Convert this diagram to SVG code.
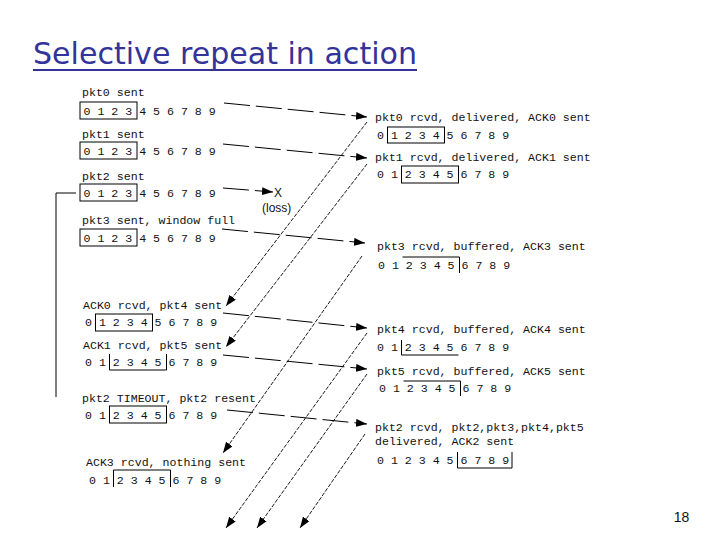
<svg xmlns="http://www.w3.org/2000/svg" width="720" height="540" viewBox="0 0 720 540">
<defs>
<marker id="ah" markerUnits="userSpaceOnUse" markerWidth="11" markerHeight="8" refX="11" refY="4" orient="auto"><path d="M0,0 L11,4 L0,8 z" fill="#000"/></marker>
<style>
.t{font-family:"Liberation Mono","DejaVu Sans Mono",monospace;font-size:11.6px;fill:#111}
.b{fill:none;stroke:#000;stroke-width:1}
.d{stroke:#000;stroke-width:1;fill:none;stroke-dasharray:26 6;marker-end:url(#ah)}
.a{stroke:#000;stroke-width:0.9;fill:none;stroke-dasharray:4 1.5;marker-end:url(#ah)}
</style>
</defs>
<rect width="720" height="540" fill="#fff"/>
<g id="title">
<text x="33" y="64" font-family="DejaVu Sans, sans-serif" font-size="30" fill="#333399" textLength="384" lengthAdjust="spacingAndGlyphs">Selective repeat in action</text>
<line x1="33" y1="70" x2="417" y2="70" stroke="#333399" stroke-width="2"/>
</g>
<g id="s0"><text class="t" x="82" y="95.5">pkt0 sent</text><text class="t" x="83.5" y="114.5">0 1 2 3 4 5 6 7 8 9</text><rect class="b" x="80" y="102" width="57" height="17"/></g>
<g id="s1"><text class="t" x="82" y="137.5">pkt1 sent</text><text class="t" x="83.5" y="154.5">0 1 2 3 4 5 6 7 8 9</text><rect class="b" x="80" y="142" width="57" height="17"/></g>
<g id="s2"><text class="t" x="82" y="179.5">pkt2 sent</text><text class="t" x="83.5" y="196.5">0 1 2 3 4 5 6 7 8 9</text><rect class="b" x="80" y="184" width="57" height="17"/></g>
<g id="s3"><text class="t" x="82" y="223.5">pkt3 sent, window full</text><text class="t" x="83.5" y="241.5">0 1 2 3 4 5 6 7 8 9</text><rect class="b" x="80" y="229" width="57" height="17"/></g>
<g id="s4"><text class="t" x="83" y="309">ACK0 rcvd, pkt4 sent</text><text class="t" x="85" y="326">0 1 2 3 4 5 6 7 8 9</text><rect class="b" x="95.5" y="314" width="57" height="17"/></g>
<g id="s5"><text class="t" x="83" y="349">ACK1 rcvd, pkt5 sent</text><text class="t" x="85" y="366">0 1 2 3 4 5 6 7 8 9</text><path class="b" d="M109.5,354 V370 H166.5 V354"/></g>
<g id="s6"><text class="t" x="82" y="402">pkt2 TIMEOUT, pkt2 resent</text><text class="t" x="85" y="419">0 1 2 3 4 5 6 7 8 9</text><rect class="b" x="109.5" y="406" width="57" height="17"/></g>
<g id="s7"><text class="t" x="86" y="466">ACK3 rcvd, nothing sent</text><text class="t" x="89" y="484">0 1 2 3 4 5 6 7 8 9</text><path class="b" d="M113.5,487 V470 H170.5 V487"/></g>
<g id="timer"><path class="b" d="M76,193 H56 V397"/></g>
<g id="r0"><text class="t" x="375" y="121">pkt0 rcvd, delivered, ACK0 sent</text><text class="t" x="377" y="139">0 1 2 3 4 5 6 7 8 9</text><rect class="b" x="387.5" y="127" width="57" height="16"/></g>
<g id="r1"><text class="t" x="375" y="161">pkt1 rcvd, delivered, ACK1 sent</text><text class="t" x="377" y="178">0 1 2 3 4 5 6 7 8 9</text><rect class="b" x="401.5" y="166" width="57" height="17"/></g>
<g id="r2"><text class="t" x="377" y="250">pkt3 rcvd, buffered, ACK3 sent</text><text class="t" x="378" y="269">0 1 2 3 4 5 6 7 8 9</text><path class="b" d="M402.5,257 H459.5 V273"/></g>
<g id="r3"><text class="t" x="377" y="333">pkt4 rcvd, buffered, ACK4 sent</text><text class="t" x="377" y="351">0 1 2 3 4 5 6 7 8 9</text><path class="b" d="M401.5,340 V355 H458.5"/></g>
<g id="r4"><text class="t" x="377" y="375">pkt5 rcvd, buffered, ACK5 sent</text><text class="t" x="379" y="392">0 1 2 3 4 5 6 7 8 9</text><path class="b" d="M403.5,381 H460.5 V396"/></g>
<g id="r5"><text class="t" x="375" y="431">pkt2 rcvd, pkt2,pkt3,pkt4,pkt5</text><text class="t" x="375" y="445">delivered, ACK2 sent</text><text class="t" x="377" y="464">0 1 2 3 4 5 6 7 8 9</text><path class="b" d="M457.5,452 V468 H512 V452"/></g>
<g id="loss"><text x="274" y="197" font-family="Liberation Sans, sans-serif" font-size="12" fill="#111">X</text><text x="262" y="212" font-family="Liberation Sans, sans-serif" font-size="12" fill="#111">(loss)</text></g>
<g id="connectors">
<line class="d" x1="224" y1="103" x2="367" y2="117"/>
<line class="d" x1="223" y1="144" x2="367" y2="158"/>
<line class="d" x1="223" y1="188" x2="273" y2="192"/>
<line class="d" x1="222" y1="229" x2="365" y2="243"/>
<line class="d" x1="223" y1="313" x2="367" y2="328"/>
<line class="d" x1="223" y1="355" x2="367" y2="369"/>
<line class="d" x1="227" y1="410" x2="367" y2="424"/>
<line class="a" x1="367" y1="122" x2="226" y2="306"/>
<line class="a" x1="367" y1="164" x2="226" y2="347"/>
<line class="a" x1="362" y1="256" x2="223" y2="453"/>
<line class="a" x1="367" y1="333" x2="226" y2="528"/>
<line class="a" x1="367" y1="374" x2="257" y2="528"/>
<line class="a" x1="365" y1="434" x2="300" y2="528"/>
</g>
<g id="page"><text x="681.5" y="522" text-anchor="middle" font-family="Liberation Sans, sans-serif" font-size="14" fill="#111">18</text></g>
</svg>
